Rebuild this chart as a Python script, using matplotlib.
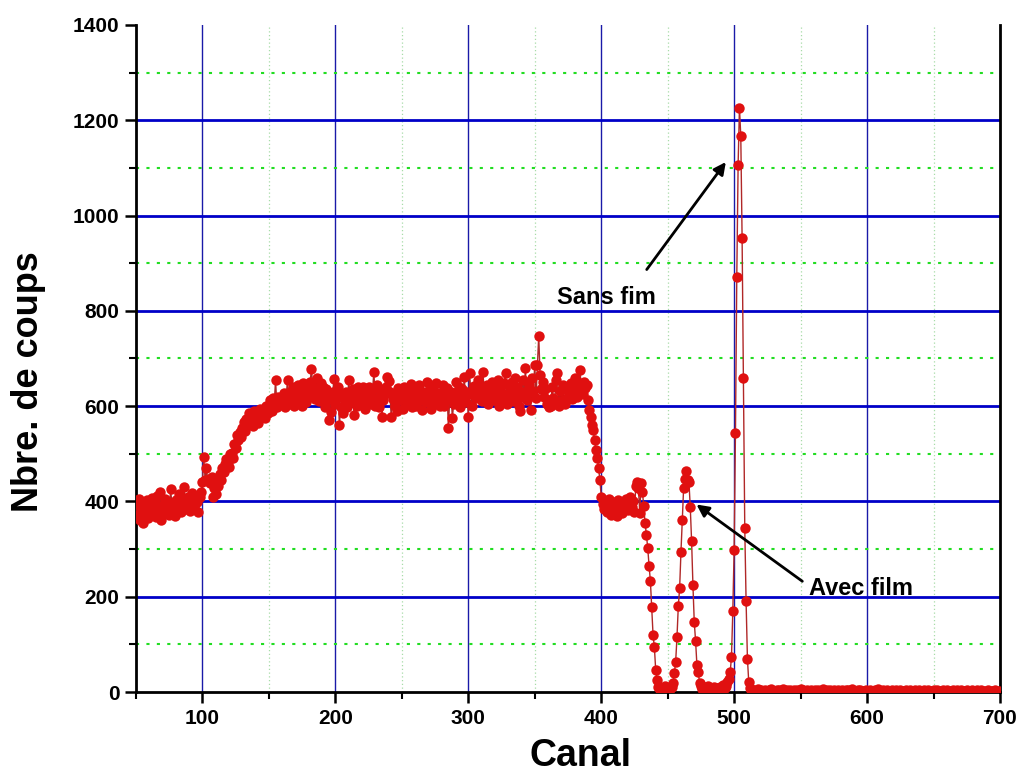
import matplotlib
matplotlib.use("Agg")
import matplotlib.pyplot as plt
from matplotlib.ticker import MultipleLocator

# channels 50..700, one count per channel
counts_050_099 = [
    395, 372, 405, 360, 388, 355, 398, 378, 402, 365,
    390, 375, 408, 382, 396, 368, 412, 385, 420, 362,
    392, 378, 405, 388, 398, 372, 426, 395, 380, 370,
    402, 388, 415, 392, 378, 408, 431, 398, 385, 410,
    395, 380, 418, 402, 388, 412, 398, 378, 410, 420,
]
counts_100_159 = [
    440, 493, 445, 470, 442, 448, 438, 452, 410, 428,
    415, 440, 432, 458, 445, 470, 462, 478, 490, 482,
    473, 500, 501, 492, 520, 512, 540, 528, 546, 535,
    555, 567, 548, 572, 560, 585, 566, 578, 558, 590,
    571, 582, 565, 595, 578, 588, 592, 575, 600, 585,
    600, 612, 590, 618, 605, 655, 598, 620, 608, 615,
]
counts_160_389 = [
    612, 628, 598, 620, 655, 605, 630, 615, 640, 600,
    625, 610, 645, 618, 632, 600, 648, 622, 608, 638,
    628, 650, 678, 640, 620, 615, 660, 632, 610, 648,
    625, 640, 598, 635, 612, 571, 620, 588, 630, 657,
    605, 618, 640, 560, 598, 625, 585, 612, 630, 598,
    654, 620, 608, 635, 581, 625, 600, 640, 615, 630,
    610, 641, 595, 628, 615, 640, 605, 620, 635, 672,
    600, 645, 618, 598, 630, 578, 612, 625, 640, 662,
    652, 630, 578, 615, 625, 600, 590, 638, 612, 628,
    620, 595, 640, 610, 632, 605, 625, 646, 598, 618,
    635, 600, 628, 645, 612, 592, 630, 620, 608, 650,
    625, 640, 595, 618, 632, 605, 648, 615, 628, 600,
    612, 645, 600, 622, 638, 554, 615, 630, 575, 605,
    628, 650, 612, 640, 598, 635, 620, 662, 608, 630,
    578, 669, 625, 600, 642, 630, 618, 655, 622, 640,
    610, 671, 632, 620, 645, 605, 638, 625, 650, 612,
    635, 620, 655, 600, 640, 628, 615, 648, 669, 605,
    645, 618, 632, 650, 610, 660, 625, 640, 600, 590,
    620, 655, 630, 680, 612, 628, 645, 592, 660, 632,
    687, 618, 686, 748, 665, 637, 650, 620, 635, 605,
    612, 598, 600, 640, 618, 608, 655, 669, 600, 632,
    610, 645, 613, 605, 638, 620, 630, 648, 615, 618,
    660, 635, 620, 648, 676, 642, 625, 650, 638, 645,
]
counts_390_512 = [
    612, 592, 578, 560, 550, 528, 508, 492, 470, 445,
    410, 395, 385, 400, 378, 392, 405, 372, 388, 398,
    380, 395, 370, 402, 385, 392, 375, 398, 388, 405,
    382, 395, 410, 388, 400, 378, 432, 441, 428, 375,
    438, 420, 390, 355, 330, 302, 265, 233, 178, 120,
    94, 46, 25, 10, 4, 2, 8, 3, 12, 5,
    5, 0, 8, 10, 19, 40, 63, 115, 180, 218,
    294, 361, 428, 447, 464, 445, 441, 388, 317, 225,
    147, 107, 57, 42, 19, 12, 6, 10, 4, 8,
    12, 5, 9, 3, 7, 11, 4, 8, 6, 10,
    5, 9, 14, 8, 12, 20, 28, 41, 73, 169,
    299, 544, 872, 1107, 1226, 1168, 952, 660, 345, 190,
    70, 21, 8,
]
counts_513_700 = [
    4, 2, 5, 1, 3, 6, 2, 4, 0, 3,
    5, 2, 1, 4, 3, 6, 2, 0, 3, 5,
    1, 4, 2, 3, 6, 1, 3, 4, 2, 5,
    0, 3, 4, 1, 5, 2, 3, 6, 1, 4,
    2, 3, 5, 0, 2, 4, 1, 3, 5, 2,
    4, 1, 3, 2, 6, 3, 0, 4, 2, 5,
    3, 1, 4, 2, 3, 5, 1, 2, 4, 0,
    3, 5, 2, 4, 1, 3, 6, 2, 3, 1,
    4, 2, 5, 3, 0, 2, 4, 3, 1, 5,
    2, 3, 1, 4, 2, 6, 3, 1, 2, 4,
    3, 0, 5, 2, 3, 1, 4, 2, 3, 5,
    1, 2, 4, 3, 0, 3, 5, 1, 2, 4,
    3, 2, 1, 5, 3, 2, 4, 0, 3, 2,
    5, 1, 3, 4, 2, 1, 3, 5, 2, 0,
    4, 3, 1, 2, 5, 3, 2, 4, 1, 3,
    2, 0, 4, 3, 1, 5, 2, 3, 4, 1,
    3, 2, 5, 1, 0, 3, 4, 2, 3, 1,
    4, 2, 3, 5, 1, 2, 0, 3, 4, 2,
    1, 3, 2, 4, 3, 1, 2, 0,
]

counts = counts_050_099 + counts_100_159 + counts_160_389 + counts_390_512 + counts_513_700
canal = list(range(50, 50 + len(counts)))

fig = plt.figure(figsize=(10.21, 7.80), dpi=100)
ax = fig.add_axes([0.1332, 0.1128, 0.8462, 0.8552])

ax.set_xlim(50, 700)
ax.set_ylim(0, 1400)

# grid: blue solid majors, green dotted minors
ax.xaxis.set_major_locator(MultipleLocator(100))
ax.xaxis.set_minor_locator(MultipleLocator(50))
ax.yaxis.set_major_locator(MultipleLocator(200))
ax.yaxis.set_minor_locator(MultipleLocator(100))
ax.grid(False)
for xv in range(100, 700, 100):
    ax.axvline(xv, color="#1a1aa8", lw=1.0, zorder=1)
for xv in range(150, 700, 100):
    ax.axvline(xv, color="#a8dca8", lw=0.9, ls=(0, (1, 2)), zorder=1)
for yv in range(200, 1400, 200):
    ax.axhline(yv, color="#0000c8", lw=2.0, zorder=1)
for yv in range(100, 1400, 200):
    ax.axhline(yv, color="#22dd22", lw=1.5, ls=(0, (1.5, 3.5)), zorder=1)

ax.plot(canal, counts, color="#b02828", lw=1.0, zorder=3,
        marker="o", markersize=7.5, markerfacecolor="#e01010",
        markeredgecolor="#e01010", markeredgewidth=0)

for side in ["left", "bottom", "right"]:
    ax.spines[side].set_linewidth(2.0)
    ax.spines[side].set_color("black")
ax.spines["top"].set_visible(False)

ax.tick_params(axis="both", which="major", direction="out", length=8, width=1.8,
               labelsize=15, pad=4)
ax.tick_params(axis="both", which="minor", direction="out", length=5, width=1.5)
ax.tick_params(axis="y", right=False, which="both")
ax.set_xticks([100, 200, 300, 400, 500, 600, 700])
for lab in ax.get_xticklabels() + ax.get_yticklabels():
    lab.set_fontweight("bold")
    lab.set_family("Liberation Sans")

ax.set_xlabel("Canal", fontsize=27, fontweight="bold", family="Liberation Sans")
ax.xaxis.set_label_coords(0.514, -0.069)
ax.set_ylabel("Nbre. de coups", fontsize=26, fontweight="bold", family="Liberation Sans")
ax.yaxis.set_label_coords(-0.104, 0.465)

arrow = dict(arrowstyle="-|>", color="black", lw=2.0, mutation_scale=18)
ax.annotate("", xy=(495, 1117), xytext=(433, 882), arrowprops=arrow, zorder=5)
ax.text(404, 829, "Sans fim", fontsize=17, fontweight="bold", family="Liberation Sans",
        ha="center", va="center", zorder=5)
ax.annotate("", xy=(470, 397), xytext=(553, 229), arrowprops=arrow, zorder=5)
ax.text(556, 218, "Avec film", fontsize=17, fontweight="bold", family="Liberation Sans",
        ha="left", va="center", zorder=5)

fig.savefig("out.png", dpi=100)
